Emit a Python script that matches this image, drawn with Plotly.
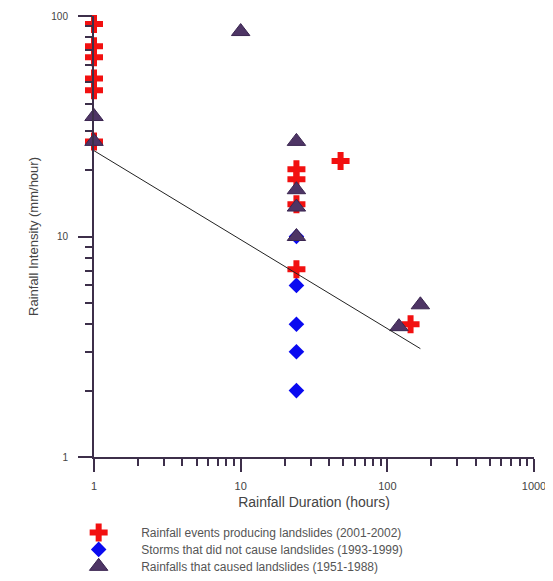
import plotly.graph_objects as go

# Rainfall events producing landslides (2001-2002)
events_x = [1, 1, 1, 1, 1, 1, 24, 24, 24, 24, 48, 144]
events_y = [92, 73, 65, 52, 46, 27, 20.2, 18.2, 14, 7.1, 22, 4.0]

# Storms that did not cause landslides (1993-1999)
storms_x = [24, 24, 24, 24, 24]
storms_y = [10, 6.0, 4.0, 3.0, 2.0]

# Rainfalls that caused landslides (1951-1988)
past_x = [1, 1, 10, 24, 24, 24, 24, 120, 168]
past_y = [35, 27, 85, 27, 16.3, 13.6, 10, 3.9, 4.9]

# Threshold line
thr_x = [1, 168]
thr_y = [24.5, 3.1]

x_ticks = [1, 10, 100, 1000]
y_ticks = [1, 10, 100]

FONT = "Arial, Liberation Sans, sans-serif"
AXIS = "#3d2f4a"

fig = go.Figure()
fig.add_trace(go.Scatter(
    x=storms_x, y=storms_y, mode="markers", cliponaxis=False,
    name="Storms that did not cause landslides (1993-1999)",
    marker=dict(symbol="diamond", size=12, color="#0a0af0", line=dict(width=0)),
    legend="legend2"))
fig.add_trace(go.Scatter(
    x=events_x, y=events_y, mode="markers", cliponaxis=False,
    name="Rainfall events producing landslides (2001-2002)",
    marker=dict(symbol="cross", size=15, color="#f21010", line=dict(width=0)),
    legend="legend"))
fig.add_trace(go.Scatter(
    x=past_x, y=past_y, mode="markers", cliponaxis=False,
    name="Rainfalls that caused landslides (1951-1988)",
    marker=dict(symbol="triangle-up", size=16, color="#4e3565",
                line=dict(width=1, color="#3a2550")),
    legend="legend3"))
fig.add_trace(go.Scatter(
    x=thr_x, y=thr_y, mode="lines", showlegend=False, cliponaxis=False,
    line=dict(color="#222222", width=1)))

leg = dict(x=-0.086, xanchor="left", yanchor="middle",
           itemwidth=75, font=dict(family=FONT, size=12, color="#555"),
           bgcolor="rgba(0,0,0,0)")

fig.update_layout(
    width=545, height=573,
    margin=dict(l=86, r=19, t=7.5, b=124, autoexpand=False),
    paper_bgcolor="white", plot_bgcolor="white",
    font=dict(family=FONT, size=11, color="#444"),
    legend=dict(leg, y=-0.171),
    legend2=dict(leg, y=-0.2095),
    legend3=dict(leg, y=-0.248),
)
fig.update_xaxes(
    type="log", range=[0, 3], automargin=False,
    tickvals=x_ticks, ticktext=[str(v) for v in x_ticks],
    showgrid=False, zeroline=False,
    showline=True, linecolor=AXIS, linewidth=2,
    ticks="outside", ticklen=13, tickwidth=2, tickcolor=AXIS,
    ticklabelstandoff=5,
    tickfont=dict(family=FONT, size=11, color="#444"),
    minor=dict(ticks="outside", ticklen=7, tickwidth=2, tickcolor=AXIS,
               dtick="D1", showgrid=False),
    title=dict(text="Rainfall Duration (hours)",
               font=dict(family=FONT, size=14, color="#444"), standoff=6),
)
fig.update_yaxes(
    type="log", range=[0, 2], automargin=False,
    tickvals=y_ticks, ticktext=[str(v) for v in y_ticks],
    showgrid=False, zeroline=False,
    showline=True, linecolor=AXIS, linewidth=2,
    ticks="outside", ticklen=14, tickwidth=2, tickcolor=AXIS,
    ticklabelstandoff=8,
    tickfont=dict(family=FONT, size=10, color="#444"),
    minor=dict(ticks="outside", ticklen=7, tickwidth=2, tickcolor=AXIS,
               dtick="D1", showgrid=False),
    title=dict(text="Rainfall Intensity (mm/hour)",
               font=dict(family=FONT, size=13, color="#444"), standoff=10),
)

fig.write_html("out.html")
